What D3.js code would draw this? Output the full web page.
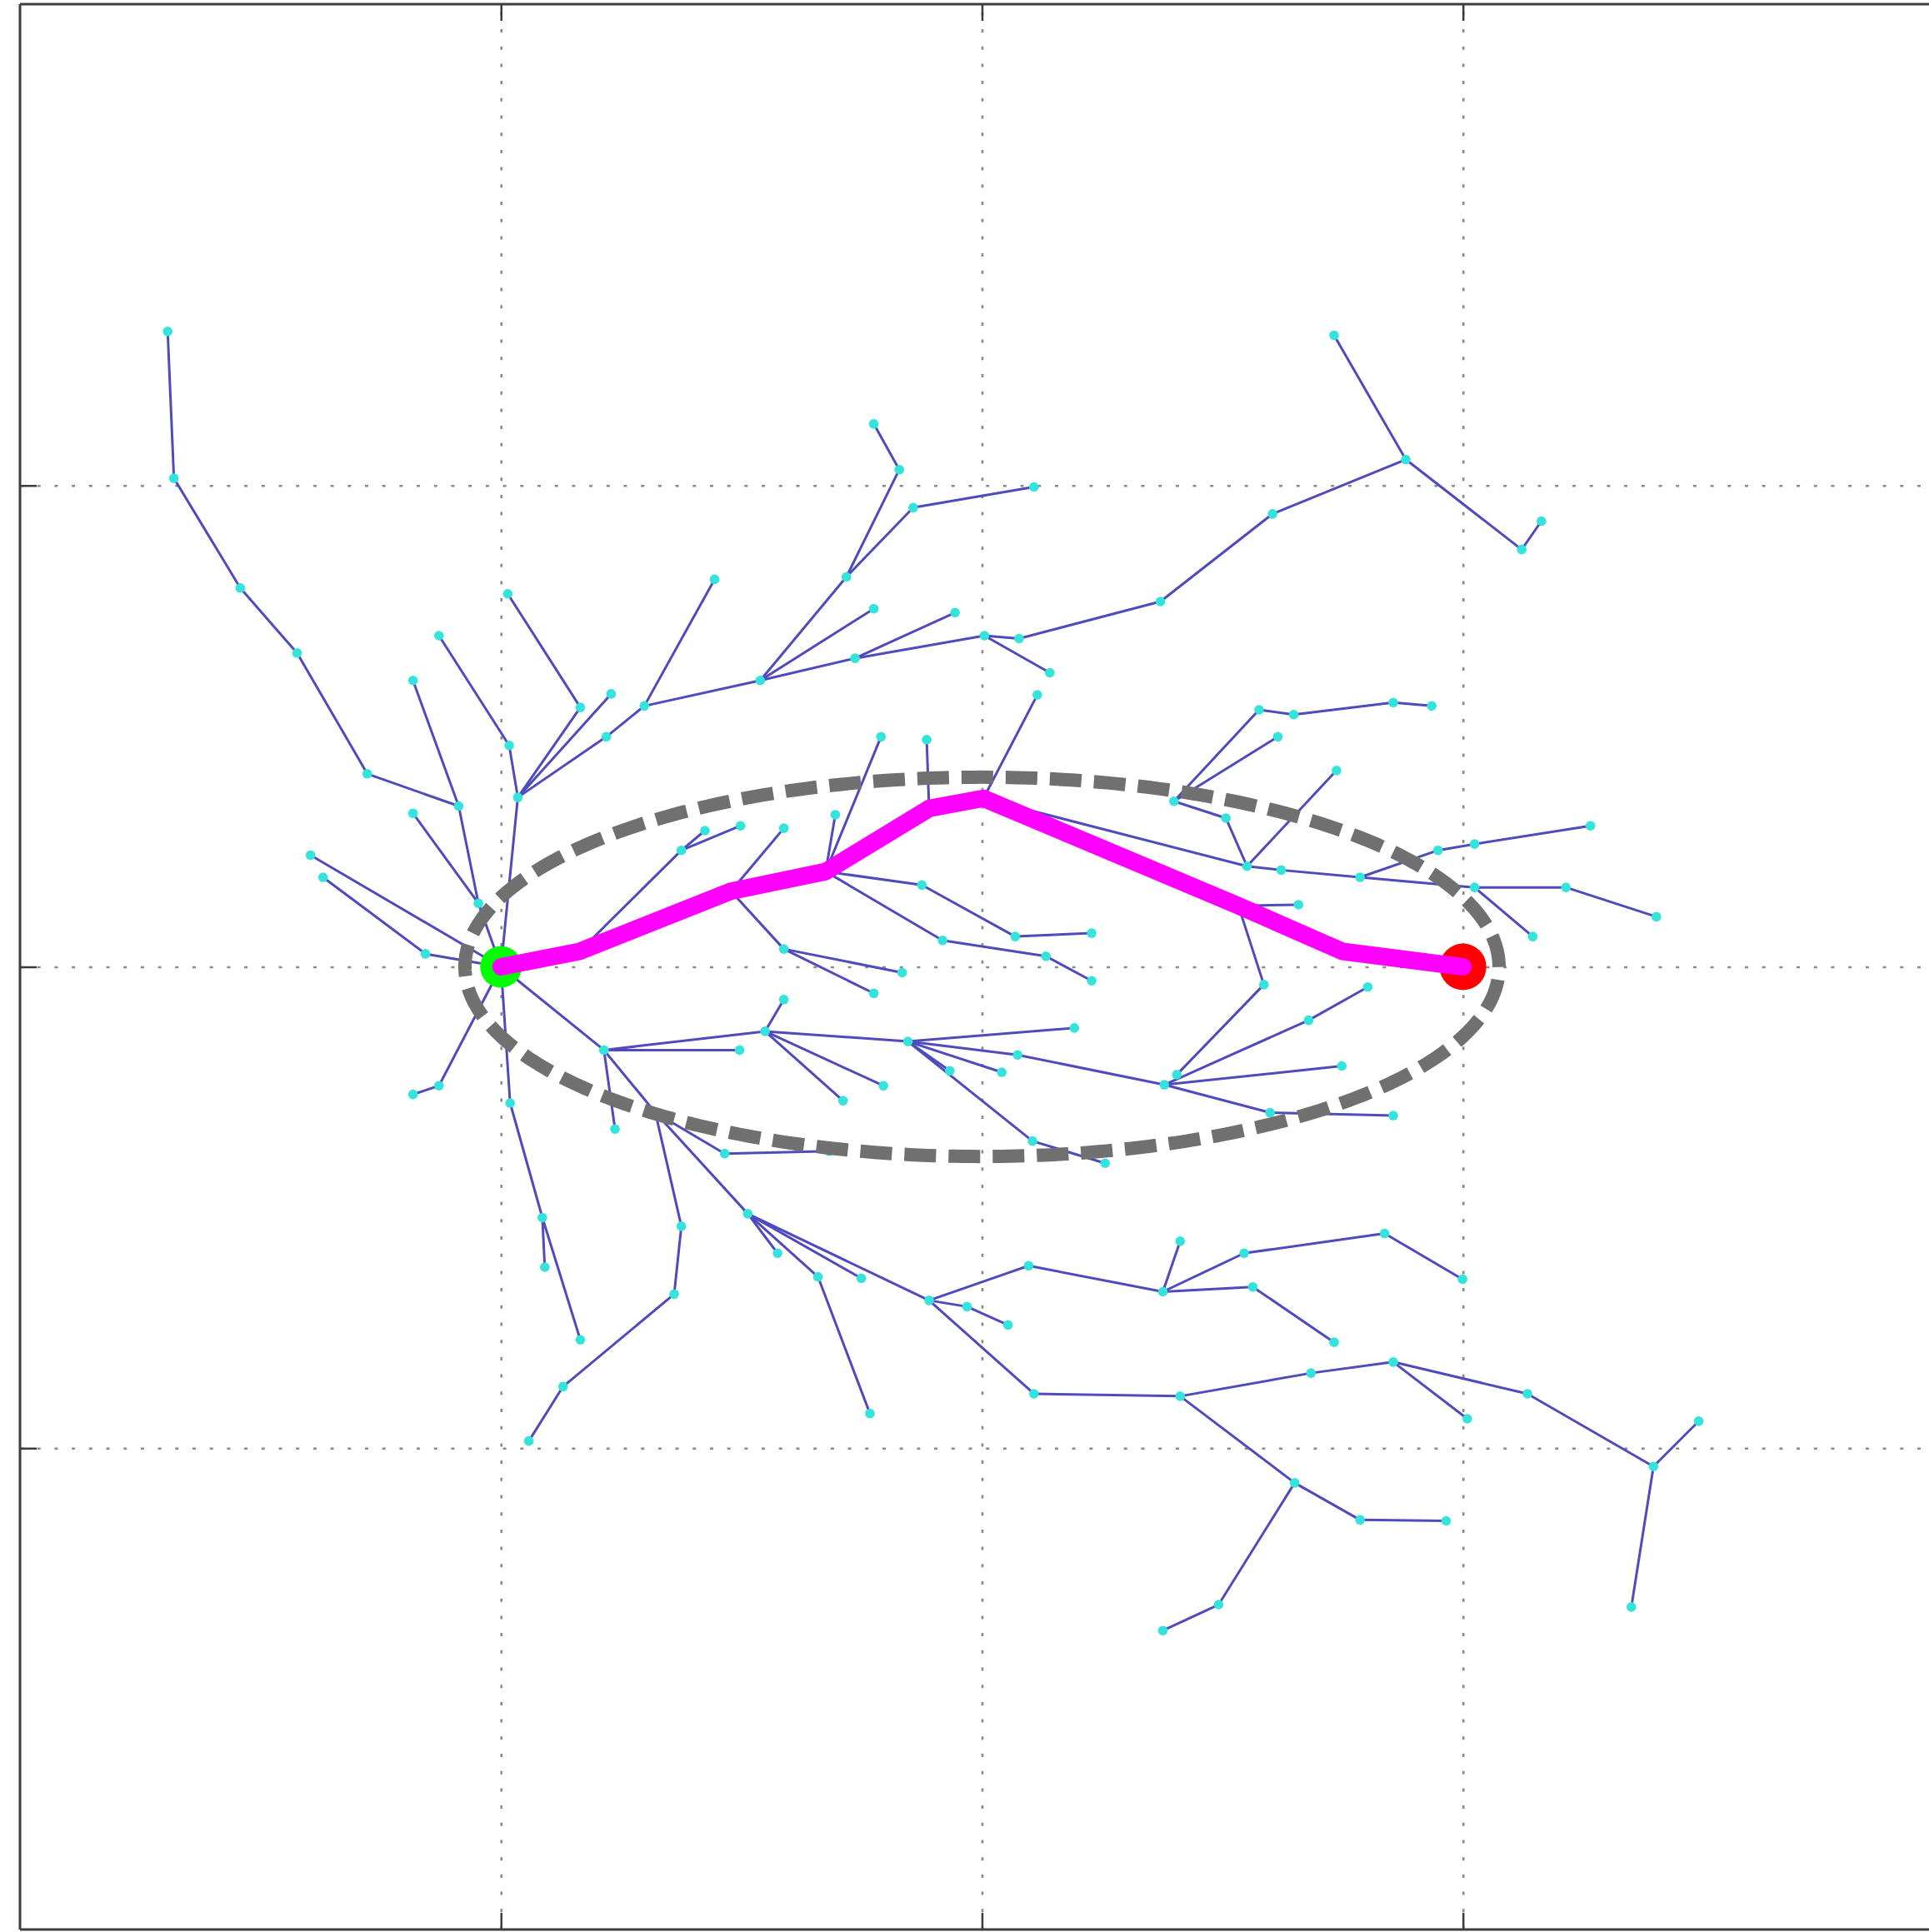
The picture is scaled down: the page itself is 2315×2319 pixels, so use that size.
<!DOCTYPE html>
<html><head><meta charset="utf-8">
<script src="https://cdn.jsdelivr.net/npm/d3@7"></script>
<style>html,body{margin:0;padding:0;background:#fff;} svg{display:block;}</style>
</head><body>
<svg id="chart" width="2315" height="2319"></svg>
<script>
// ---- data (axis units) ----
const xTicks = [1, 2, 3];
const yTicks = [1, 2, 3];
const xDomain = [0, 4];
const yDomain = [0, 4];

const nodeX = [1.000,0.953,0.912,0.722,0.576,0.458,0.320,0.307,0.817,0.817,
  0.604,0.843,0.630,0.871,0.817,1.035,1.017,0.871,1.165,1.014,
  1.229,1.219,1.298,1.444,1.539,1.718,1.828,1.775,1.857,2.108,
  1.775,1.736,1.944,2.005,2.077,2.141,2.371,2.604,2.881,2.732,
  3.122,3.163,1.163,1.478,1.675,1.890,2.003,2.533,2.750,3.000,
  1.375,1.424,1.498,1.588,1.695,1.790,1.885,2.115,1.875,2.069,
  2.228,1.918,2.133,2.228,1.588,1.834,1.775,2.551,2.737,2.507,
  2.399,2.576,2.648,2.855,2.935,2.615,2.622,2.786,2.948,3.024,
  3.265,3.024,3.214,3.402,3.145,2.658,2.586,2.405,1.214,1.549,
  1.496,1.237,1.321,1.588,1.795,1.711,1.846,1.933,2.041,2.192,
  2.105,2.256,2.074,2.379,2.679,2.802,2.748,2.599,2.855,1.465,
  1.682,1.375,1.360,1.129,1.058,1.513,1.575,1.659,1.767,1.749,
  1.890,1.969,2.054,2.097,2.376,2.412,2.545,2.837,2.999,2.563,
  2.732,2.108,2.412,2.684,2.855,3.009,3.134,3.396,3.490,3.350,
  2.650,2.786,2.965,2.492,2.376,1.019,1.086,1.091,1.165];

const nodeY = [2.000,2.132,2.334,2.401,2.652,2.787,3.015,3.320,2.595,2.319,
  2.232,2.027,2.186,1.753,1.735,2.352,2.460,2.688,2.539,2.775,
  2.567,2.478,2.542,2.805,2.595,2.810,3.033,3.128,2.954,2.997,
  2.744,2.641,2.736,2.688,2.682,2.611,2.759,2.941,3.054,3.312,
  2.867,2.926,2.032,2.157,2.198,2.329,2.350,2.127,2.032,2.000,
  2.242,2.283,2.293,2.288,2.316,2.478,2.472,2.565,2.170,2.063,
  2.070,2.055,2.022,1.971,2.037,1.988,1.945,2.209,2.408,2.309,
  2.344,2.534,2.524,2.549,2.542,2.478,2.201,2.186,2.242,2.255,
  2.293,2.165,2.165,2.104,2.063,2.129,1.963,1.776,1.827,1.866,
  1.827,1.663,1.697,1.932,1.753,1.722,1.845,1.784,1.781,1.873,
  1.638,1.592,1.817,1.755,1.889,1.958,1.794,1.697,1.691,1.612,
  1.617,1.461,1.320,1.128,1.015,1.487,1.405,1.356,1.072,1.353,
  1.307,1.294,1.256,1.379,1.325,1.430,1.405,1.446,1.351,1.335,
  1.220,1.113,1.108,1.156,1.179,1.061,1.113,0.962,1.056,0.670,
  0.928,0.851,0.849,0.675,0.621,1.717,1.479,1.376,1.225];

const parentIdx = [-1,0,1,2,3,4,5,6,2,1,
  0,0,11,0,13,0,15,16,15,18,
  15,15,21,22,22,24,25,26,25,28,
  24,24,31,31,33,33,34,36,37,38,
  38,40,0,42,43,44,45,46,47,48,
  42,50,50,43,44,44,45,46,44,58,
  59,44,61,62,43,64,64,46,67,67,
  69,70,71,72,73,70,67,76,77,78,
  79,77,81,82,81,47,47,86,0,88,
  88,88,88,89,89,89,89,96,96,96,
  96,100,96,102,103,104,103,103,107,92,
  109,92,111,112,113,92,115,115,117,115,
  115,120,121,120,123,124,124,126,127,124,
  129,120,131,132,133,134,134,136,137,137,
  132,140,141,140,143,0,145,146,146];

const pathNodes = [0, 42, 43, 44, 45, 46, 47, 48, 49];
const startPt = [1.0, 2.0];
const goalPt = [3.0, 2.0];
const ellipseCenter = [2.0, 2.0];
const ellipseSemiMajor = 1.075;
const ellipseSemiMinor = 0.394;

// ---- drawing ----
const W = 2315, H = 2319;
const svg = d3.select("#chart");
const x = d3.scaleLinear().domain(xDomain).range([24, 2333]);
const y = d3.scaleLinear().domain(yDomain).range([2316, 5]);
const plotTop = y(yDomain[1]), plotBottom = y(yDomain[0]);
const plotLeft = x(xDomain[0]), plotRight = x(xDomain[1]);

svg.append("rect").attr("width", W).attr("height", H).attr("fill", "#ffffff");

// grid
const gridX = svg.append("g").attr("transform", `translate(0,${plotBottom})`)
  .call(d3.axisBottom(x).tickValues(xTicks).tickSize(-(plotBottom - plotTop)).tickFormat(""));
const gridY = svg.append("g").attr("transform", `translate(${plotLeft},0)`)
  .call(d3.axisLeft(y).tickValues(yTicks).tickSize(-(plotRight - plotLeft)).tickFormat(""));
[gridX, gridY].forEach(g => {
  g.select(".domain").remove();
  g.selectAll(".tick line").attr("stroke", "#8a8a8a").attr("stroke-width", 2.6)
    .attr("stroke-dasharray", "4,16.7");
});

// tick marks (inward)
const tickLen = 20;
const tb = svg.append("g").attr("transform", `translate(0,${plotBottom})`)
  .call(d3.axisBottom(x).tickValues(xTicks).tickSize(-tickLen).tickFormat(""));
const tt = svg.append("g").attr("transform", `translate(0,${plotTop})`)
  .call(d3.axisTop(x).tickValues(xTicks).tickSize(-tickLen).tickFormat(""));
const tl = svg.append("g").attr("transform", `translate(${plotLeft},0)`)
  .call(d3.axisLeft(y).tickValues(yTicks).tickSize(-tickLen).tickFormat(""));
[tb, tt, tl].forEach(g => {
  g.select(".domain").remove();
  g.selectAll(".tick line").attr("stroke", "#3c3c3c").attr("stroke-width", 2.5);
});

// tree edges
const edges = parentIdx.map((p, i) => ({p, i})).filter(d => d.p >= 0);
svg.append("g").selectAll("line").data(edges).join("line")
  .attr("x1", d => x(nodeX[d.p])).attr("y1", d => y(nodeY[d.p]))
  .attr("x2", d => x(nodeX[d.i])).attr("y2", d => y(nodeY[d.i]))
  .attr("stroke", "#4f4bbd").attr("stroke-width", 3).attr("stroke-linecap", "round");

// tree nodes
svg.append("g").selectAll("circle").data(nodeX.map((v, i) => i)).join("circle")
  .attr("cx", i => x(nodeX[i])).attr("cy", i => y(nodeY[i])).attr("r", 5.8)
  .attr("fill", "#33e3dc");

// ellipse
const ts = d3.range(0, 361, 1).map(t => t * Math.PI / 180);
svg.append("path")
  .datum(ts)
  .attr("d", d3.line()
    .x(t => x(ellipseCenter[0] + ellipseSemiMajor * Math.cos(t)))
    .y(t => y(ellipseCenter[1] + ellipseSemiMinor * Math.sin(t))))
  .attr("fill", "none").attr("stroke", "#707070").attr("stroke-width", 16)
  .attr("stroke-dasharray", "38,15");

// start & goal
svg.append("circle").attr("cx", x(startPt[0])).attr("cy", y(startPt[1])).attr("r", 25).attr("fill", "#00ff00");
svg.append("circle").attr("cx", x(goalPt[0])).attr("cy", y(goalPt[1])).attr("r", 28).attr("fill", "#ff0000");

// best path
svg.append("path").datum(pathNodes)
  .attr("d", d3.line().x(i => x(nodeX[i])).y(i => y(nodeY[i])))
  .attr("fill", "none").attr("stroke", "#ff00ff").attr("stroke-width", 21)
  .attr("stroke-linejoin", "round").attr("stroke-linecap", "round");

// frame
const frame = svg.append("g").attr("stroke", "#3c3c3c").attr("stroke-width", 3).attr("fill", "none");
frame.append("line").attr("x1", plotLeft).attr("x2", plotRight).attr("y1", plotTop).attr("y2", plotTop);
frame.append("line").attr("x1", plotLeft).attr("x2", plotRight).attr("y1", plotBottom).attr("y2", plotBottom);
frame.append("line").attr("x1", plotLeft).attr("x2", plotLeft).attr("y1", plotTop).attr("y2", plotBottom);
frame.append("line").attr("x1", plotRight).attr("x2", plotRight).attr("y1", plotTop).attr("y2", plotBottom);
</script>
</body></html>
